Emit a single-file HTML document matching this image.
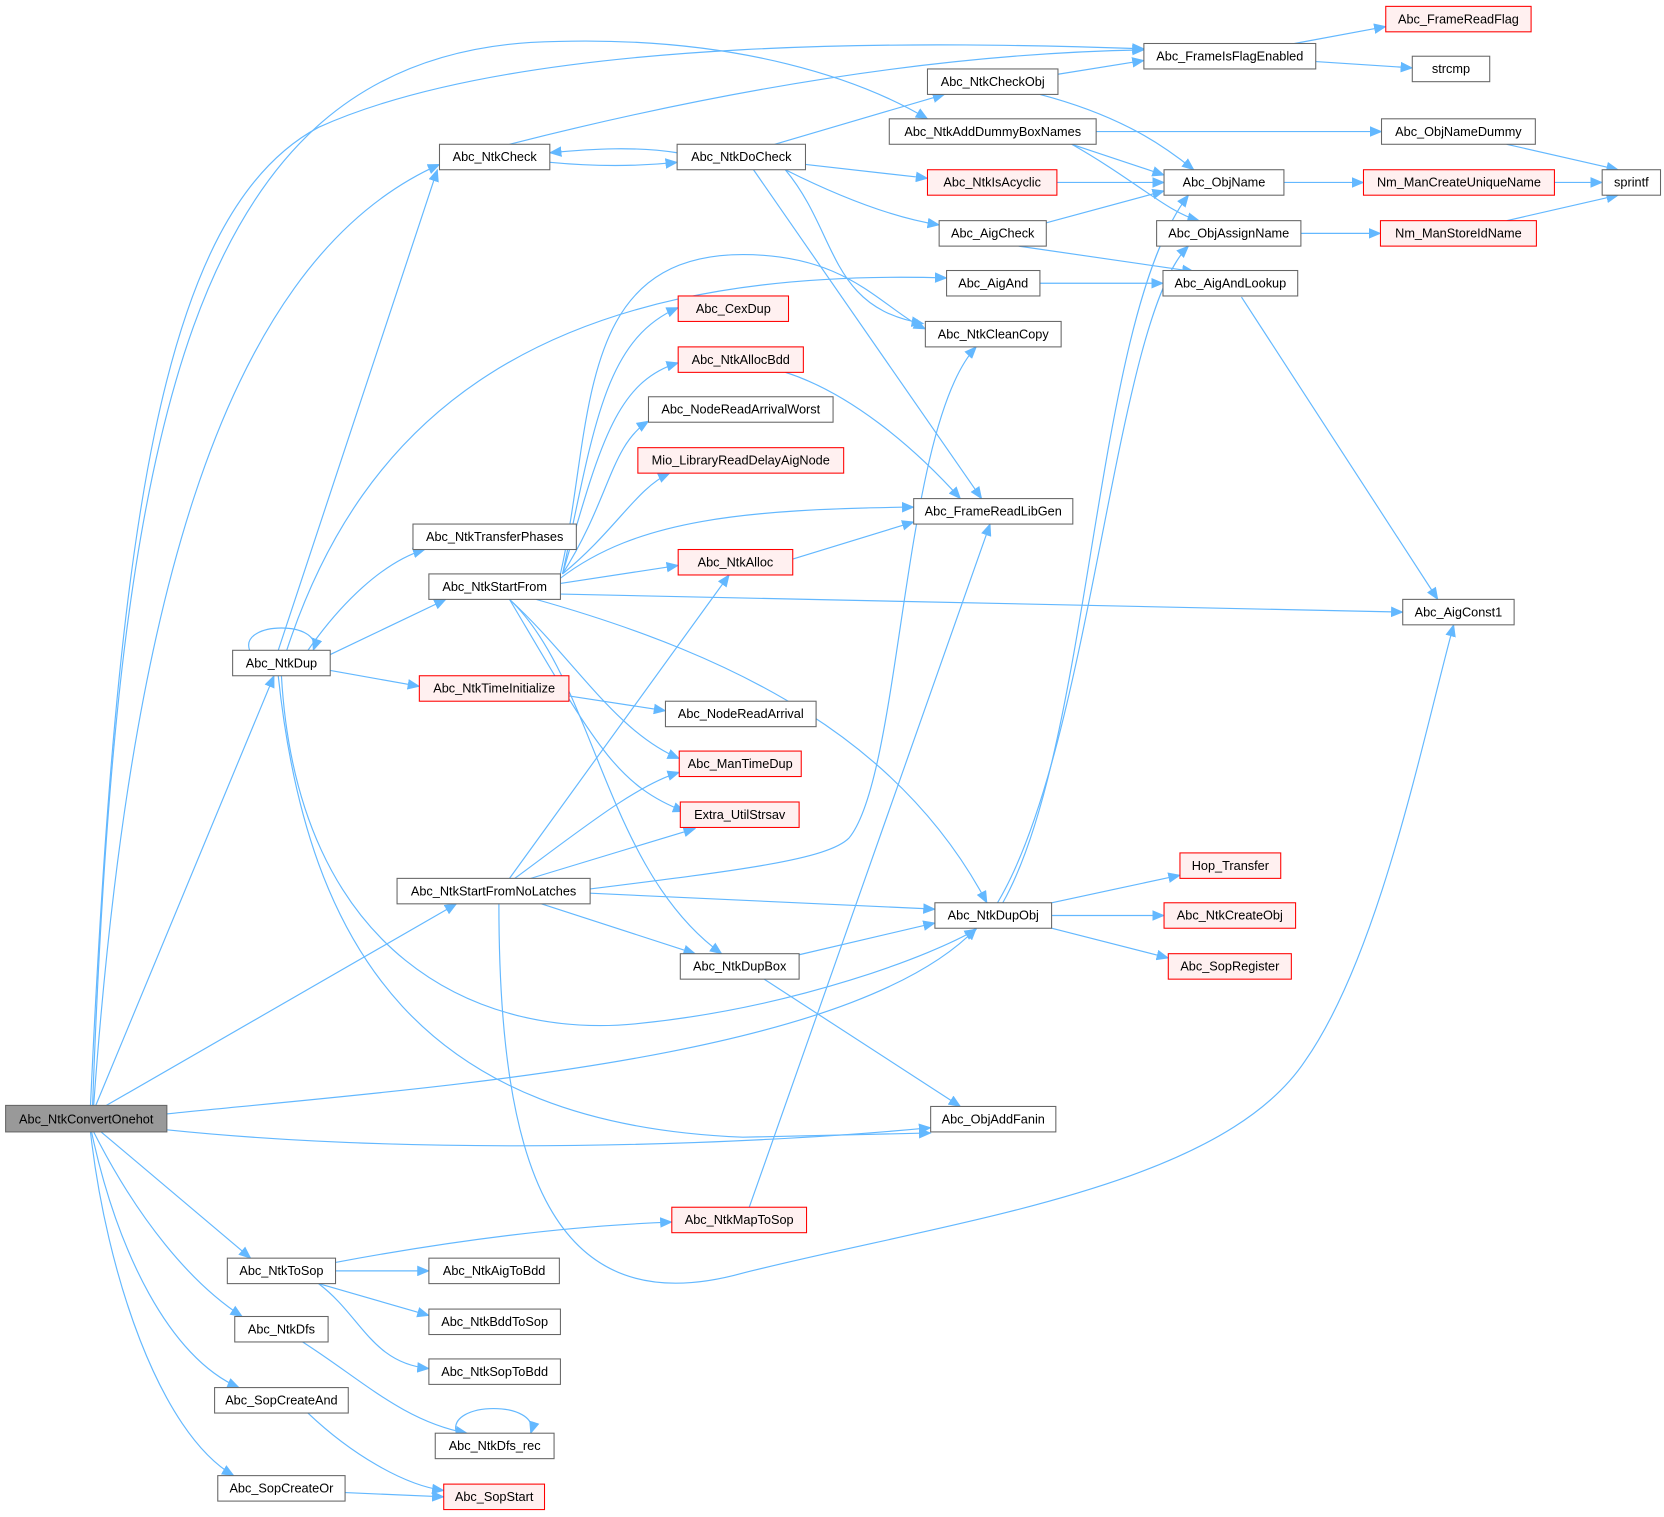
<!DOCTYPE html>
<html><head><meta charset="utf-8"><style>
html,body{margin:0;padding:0;background:#fff;}
svg{display:block;}
text{font-family:"Liberation Sans",Arial,sans-serif;font-size:12px;fill:#000;}
.e{fill:none;stroke:#63b8ff;stroke-width:1.1;marker-end:url(#a);}
.n{fill:#fff;stroke:#666;stroke-width:1;}
.r{fill:#fff0f0;stroke:#f00;stroke-width:1;}
</style></head><body>
<svg width="1664" height="1517" viewBox="0 0 1568 1430" xmlns="http://www.w3.org/2000/svg">
<defs><marker id="a" markerUnits="userSpaceOnUse" markerWidth="12" markerHeight="10" refX="11" refY="5" orient="auto"><path d="M0,0 L12,5 L0,10 Z" fill="#63b8ff"/></marker></defs>
<g>
<path class="e" d="M85,1042 C110,500 150,200 300,120 C500,30 900,40 1078,46"/>
<path class="e" d="M87,1042 C110,400 180,60 500,40 C700,30 820,80 874,112"/>
<path class="e" d="M88,1042 C120,600 200,250 414,155"/>
<path class="e" d="M90,1042 L258,637"/>
<path class="e" d="M100,1042 L430,852"/>
<path class="e" d="M157,1050 C400,1025 800,1000 920,875"/>
<path class="e" d="M157,1065 C400,1090 700,1080 877,1063"/>
<path class="e" d="M95,1067 L236,1186"/>
<path class="e" d="M88,1067 C130,1150 180,1210 228,1241"/>
<path class="e" d="M86,1067 C110,1180 160,1280 225,1308"/>
<path class="e" d="M85,1067 C100,1200 150,1350 220,1391"/>
<path class="e" d="M235,613 C225,585 305,585 295,613"/>
<path class="e" d="M262,613 L412,160"/>
<path class="e" d="M290,613 C320,570 360,530 400,518"/>
<path class="e" d="M311,617 L420,565"/>
<path class="e" d="M311,632 L395,647"/>
<path class="e" d="M270,613 C340,400 500,250 892,262"/>
<path class="e" d="M265,637 C280,900 450,980 600,965 C750,950 880,900 920,876"/>
<path class="e" d="M262,637 C290,900 400,1060 700,1072 L877,1068"/>
<path class="e" d="M518,153 C560,157 600,157 638,153"/>
<path class="e" d="M638,144 C600,138 560,140 518,144"/>
<path class="e" d="M480,136 C700,80 900,50 1078,47"/>
<path class="e" d="M730,136 L890,89"/>
<path class="e" d="M759,155 L874,168"/>
<path class="e" d="M740,160 C790,185 840,205 885,212"/>
<path class="e" d="M740,160 C790,220 780,290 870,305"/>
<path class="e" d="M710,160 L925,470"/>
<path class="e" d="M997,70 L1078,57"/>
<path class="e" d="M980,89 C1060,110 1100,140 1125,160"/>
<path class="e" d="M1220,41 L1306,25"/>
<path class="e" d="M1240,58 L1331,64"/>
<path class="e" d="M1033,124 L1302,124"/>
<path class="e" d="M1010,136 L1097,165"/>
<path class="e" d="M1010,136 C1070,170 1100,200 1130,208"/>
<path class="e" d="M996,172 L1097,172"/>
<path class="e" d="M1210,172 L1285,172"/>
<path class="e" d="M1465,172 L1510,172"/>
<path class="e" d="M1420,136 L1525,160"/>
<path class="e" d="M1420,208 L1525,184"/>
<path class="e" d="M1226,220 L1301,220"/>
<path class="e" d="M986,210 L1097,180"/>
<path class="e" d="M960,232 L1125,256"/>
<path class="e" d="M980,267 L1096,267"/>
<path class="e" d="M1170,280 L1355,565"/>
<path class="e" d="M740,351 C800,370 860,420 905,470"/>
<path class="e" d="M747,527 L861,492"/>
<path class="e" d="M530,541 C560,400 570,320 639,290"/>
<path class="e" d="M530,541 C565,420 580,360 639,342"/>
<path class="e" d="M530,541 C575,470 575,420 611,397"/>
<path class="e" d="M530,541 C580,500 600,460 631,446"/>
<path class="e" d="M528,541 C560,400 540,240 700,240 C800,240 830,290 872,310"/>
<path class="e" d="M528,545 C600,490 700,480 861,478"/>
<path class="e" d="M528,550 L639,533"/>
<path class="e" d="M528,560 L1322,577"/>
<path class="e" d="M505,565 C700,620 850,700 930,851"/>
<path class="e" d="M480,565 C540,620 580,690 640,715"/>
<path class="e" d="M480,565 C560,700 580,740 645,765"/>
<path class="e" d="M480,565 C560,640 570,820 680,899"/>
<path class="e" d="M536,656 L627,670"/>
<path class="e" d="M480,828 L687,542"/>
<path class="e" d="M485,828 C550,780 600,740 640,728"/>
<path class="e" d="M500,828 L655,781"/>
<path class="e" d="M556,838 C700,820 780,810 800,790 C850,730 850,400 920,327"/>
<path class="e" d="M556,842 L881,857"/>
<path class="e" d="M510,852 L655,899"/>
<path class="e" d="M470,852 C470,1100 520,1250 700,1200 C900,1150 1150,1120 1230,1000 C1300,900 1340,700 1370,589"/>
<path class="e" d="M991,851 L1112,825"/>
<path class="e" d="M991,863 L1097,863"/>
<path class="e" d="M991,875 L1101,903"/>
<path class="e" d="M945,851 C1030,700 1030,300 1120,184"/>
<path class="e" d="M940,851 C1030,700 1050,300 1120,232"/>
<path class="e" d="M753,900 L881,870"/>
<path class="e" d="M720,923 L905,1043"/>
<path class="e" d="M706,1138 L933,494"/>
<path class="e" d="M316,1190 C450,1165 550,1155 633,1152"/>
<path class="e" d="M316,1198 L404,1198"/>
<path class="e" d="M300,1210 L404,1240"/>
<path class="e" d="M300,1210 C340,1240 350,1285 404,1290"/>
<path class="e" d="M285,1265 C340,1300 380,1340 440,1351"/>
<path class="e" d="M430,1351 C420,1320 510,1320 500,1351"/>
<path class="e" d="M290,1332 C330,1370 380,1400 418,1405"/>
<path class="e" d="M325,1407 L418,1411"/>
</g>
<g text-anchor="middle">
<rect x="5" y="1042" width="152" height="25" fill="#999" stroke="#666"/><text x="81" y="1059">Abc_NtkConvertOnehot</text>
<rect class="r" x="1306" y="6" width="137" height="24"/><text x="1374.5" y="22">Abc_FrameReadFlag</text>
<rect class="n" x="1078" y="41" width="162" height="24"/><text x="1159" y="57">Abc_FrameIsFlagEnabled</text>
<rect class="n" x="1331" y="53" width="73" height="24"/><text x="1367.5" y="69">strcmp</text>
<rect class="n" x="874" y="65" width="123" height="24"/><text x="935.5" y="81">Abc_NtkCheckObj</text>
<rect class="n" x="838" y="112" width="195" height="24"/><text x="935.5" y="128">Abc_NtkAddDummyBoxNames</text>
<rect class="n" x="1302" y="112" width="145" height="24"/><text x="1374.5" y="128">Abc_ObjNameDummy</text>
<rect class="n" x="414" y="136" width="104" height="24"/><text x="466" y="152">Abc_NtkCheck</text>
<rect class="n" x="638" y="136" width="121" height="24"/><text x="698.5" y="152">Abc_NtkDoCheck</text>
<rect class="r" x="874" y="160" width="122" height="24"/><text x="935" y="176">Abc_NtkIsAcyclic</text>
<rect class="n" x="1097" y="160" width="113" height="24"/><text x="1153.5" y="176">Abc_ObjName</text>
<rect class="r" x="1285" y="160" width="180" height="24"/><text x="1375" y="176">Nm_ManCreateUniqueName</text>
<rect class="n" x="1510" y="160" width="55" height="24"/><text x="1537.5" y="176">sprintf</text>
<rect class="n" x="885" y="208" width="101" height="24"/><text x="935.5" y="224">Abc_AigCheck</text>
<rect class="n" x="1090" y="208" width="136" height="24"/><text x="1158" y="224">Abc_ObjAssignName</text>
<rect class="r" x="1301" y="208" width="147" height="24"/><text x="1374.5" y="224">Nm_ManStoreIdName</text>
<rect class="n" x="892" y="255" width="88" height="24"/><text x="936" y="271">Abc_AigAnd</text>
<rect class="n" x="1096" y="255" width="127" height="24"/><text x="1159.5" y="271">Abc_AigAndLookup</text>
<rect class="r" x="639" y="279" width="104" height="24"/><text x="691" y="295">Abc_CexDup</text>
<rect class="n" x="872" y="303" width="128" height="24"/><text x="936" y="319">Abc_NtkCleanCopy</text>
<rect class="r" x="639" y="327" width="118" height="24"/><text x="698" y="343">Abc_NtkAllocBdd</text>
<rect class="n" x="611" y="374" width="174" height="24"/><text x="698" y="390">Abc_NodeReadArrivalWorst</text>
<rect class="r" x="601" y="422" width="194" height="24"/><text x="698" y="438">Mio_LibraryReadDelayAigNode</text>
<rect class="n" x="861" y="470" width="150" height="24"/><text x="936" y="486">Abc_FrameReadLibGen</text>
<rect class="n" x="389" y="494" width="154" height="24"/><text x="466" y="510">Abc_NtkTransferPhases</text>
<rect class="n" x="404" y="541" width="124" height="24"/><text x="466" y="557">Abc_NtkStartFrom</text>
<rect class="r" x="639" y="518" width="108" height="24"/><text x="693" y="534">Abc_NtkAlloc</text>
<rect class="n" x="1322" y="565" width="105" height="24"/><text x="1374.5" y="581">Abc_AigConst1</text>
<rect class="n" x="219" y="613" width="92" height="24"/><text x="265" y="629">Abc_NtkDup</text>
<rect class="r" x="395" y="637" width="141" height="24"/><text x="465.5" y="653">Abc_NtkTimeInitialize</text>
<rect class="n" x="627" y="661" width="142" height="24"/><text x="698" y="677">Abc_NodeReadArrival</text>
<rect class="r" x="640" y="708" width="115" height="24"/><text x="697.5" y="724">Abc_ManTimeDup</text>
<rect class="r" x="641" y="756" width="112" height="24"/><text x="697" y="772">Extra_UtilStrsav</text>
<rect class="r" x="1112" y="804" width="95" height="24"/><text x="1159.5" y="820">Hop_Transfer</text>
<rect class="n" x="374" y="828" width="182" height="24"/><text x="465" y="844">Abc_NtkStartFromNoLatches</text>
<rect class="n" x="881" y="851" width="110" height="24"/><text x="936" y="867">Abc_NtkDupObj</text>
<rect class="r" x="1097" y="851" width="124" height="24"/><text x="1159" y="867">Abc_NtkCreateObj</text>
<rect class="n" x="641" y="899" width="112" height="24"/><text x="697" y="915">Abc_NtkDupBox</text>
<rect class="r" x="1101" y="899" width="116" height="24"/><text x="1159" y="915">Abc_SopRegister</text>
<rect class="n" x="877" y="1043" width="118" height="24"/><text x="936" y="1059">Abc_ObjAddFanin</text>
<rect class="r" x="633" y="1138" width="127" height="24"/><text x="696.5" y="1154">Abc_NtkMapToSop</text>
<rect class="n" x="214" y="1186" width="102" height="24"/><text x="265" y="1202">Abc_NtkToSop</text>
<rect class="n" x="404" y="1186" width="123" height="24"/><text x="465.5" y="1202">Abc_NtkAigToBdd</text>
<rect class="n" x="404" y="1234" width="124" height="24"/><text x="466" y="1250">Abc_NtkBddToSop</text>
<rect class="n" x="221" y="1241" width="88" height="24"/><text x="265" y="1257">Abc_NtkDfs</text>
<rect class="n" x="404" y="1281" width="124" height="24"/><text x="466" y="1297">Abc_NtkSopToBdd</text>
<rect class="n" x="202" y="1308" width="126" height="24"/><text x="265" y="1324">Abc_SopCreateAnd</text>
<rect class="n" x="410" y="1351" width="112" height="24"/><text x="466" y="1367">Abc_NtkDfs_rec</text>
<rect class="n" x="205" y="1391" width="120" height="24"/><text x="265" y="1407">Abc_SopCreateOr</text>
<rect class="r" x="418" y="1399" width="95" height="24"/><text x="465.5" y="1415">Abc_SopStart</text>
</g>
</svg>
</body></html>
